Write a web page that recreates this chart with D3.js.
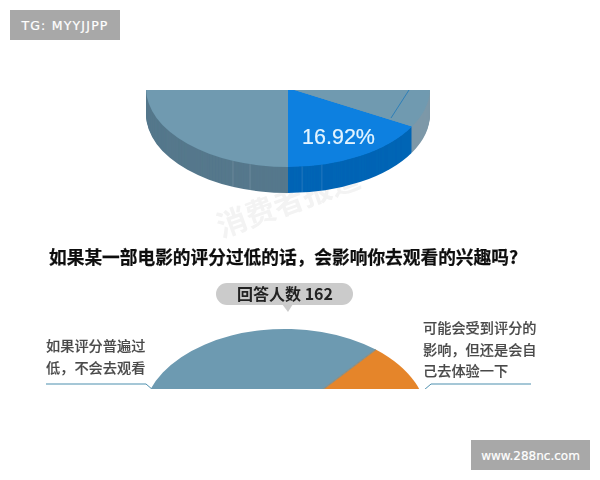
<!DOCTYPE html>
<html><head><meta charset="utf-8">
<script src="https://cdnjs.cloudflare.com/ajax/libs/d3/7.8.5/d3.min.js"></script>
<style>html,body{margin:0;padding:0;background:#fff}svg{display:block}</style>
</head><body><svg id="c" width="600" height="480"></svg>
<script>
// top pie
const topNames = ["blue","rest","right"];
const topValues = [16.92, 75.08, 8];
const topColors = ["#0a80e0","#6f9ab0","#6f9ab0"];
const topSides = ["#0565b5","#55788c","#7d98a8"];
// bottom pie
const botNames = ["orange","other","blue"];
const botValues = [30, 15, 55];
const botColors = ["#e5852a","#b0b0b0","#6d9ab1"];
// texts
const title = "如果某一部电影的评分过低的话，会影响你去观看的兴趣吗?";
const pillText = "回答人数 162";
const leftLines = ["如果评分普遍过","低，不会去观看"];
const rightLines = ["可能会受到评分的","影响，但还是会自","己去体验一下"];
const seamAngles = [202.8,195.5,174.3,166.2];

const svg = d3.select("#c");
const defs = svg.append("defs");
const soft = defs.append("filter").attr("id","soft").attr("x","-5%").attr("y","-5%").attr("width","110%").attr("height","110%");
soft.append("feGaussianBlur").attr("stdDeviation",0.45);
defs.append("clipPath").attr("id","clipTop").append("rect").attr("x",0).attr("y",90).attr("width",600).attr("height",130);
defs.append("clipPath").attr("id","clipBot").append("rect").attr("x",0).attr("y",300).attr("width",600).attr("height",89);

const root = svg.append("g").attr("filter","url(#soft)");
const rad = d=>d*Math.PI/180;
const unitArc = d3.arc().innerRadius(0).outerRadius(1);

// watermark (behind the pie)
root.append("text").attr("transform","translate(292,212) rotate(-20)").attr("text-anchor","middle")
  .attr("font-family","Noto Sans CJK SC").attr("font-weight",700).attr("font-size",30).attr("fill","#f3f3f3").text("消费者报道");

// top pie : unit pie squashed by scale transforms
const tCx=288,tCy=88,tRx=142,tRy=79,tDepth=26;
const tPie = d3.pie().sort(null).value(d=>d).startAngle(rad(180-60.9)).endAngle(rad(180-60.9+360))(topValues);
const gTop = root.append("g").attr("clip-path","url(#clipTop)");
d3.range(tDepth,0,-1).forEach(dy=>{
  gTop.append("g").attr("transform",`translate(${tCx},${tCy+dy}) scale(${tRx},${tRy})`)
    .selectAll("path").data(tPie).join("path").attr("d",unitArc)
    .attr("fill",(d,i)=>topSides[i]);
});
// seams on the side wall
const xs = a=>tCx+tRx*Math.sin(rad(a)), ys=a=>tCy-tRy*Math.cos(rad(a));
gTop.selectAll("line.seam").data(seamAngles).join("line")
  .attr("x1",xs).attr("x2",xs).attr("y1",ys).attr("y2",a=>ys(a)+tDepth)
  .attr("stroke","#fff").attr("stroke-opacity",.13).attr("stroke-width",1);
gTop.append("g").attr("transform",`translate(${tCx},${tCy}) scale(${tRx},${tRy})`)
  .selectAll("path").data(tPie).join("path").attr("d",unitArc).attr("fill",(d,i)=>topColors[i]);
gTop.append("line").attr("x1",409).attr("y1",90).attr("x2",391).attr("y2",118).attr("stroke","#2f7fb8").attr("stroke-width",1);
root.append("text").attr("x",338.5).attr("y",143.5).attr("text-anchor","middle")
  .attr("font-family","Liberation Sans").attr("font-size",21.5).attr("fill","#e4f4ff").attr("stroke","#e4f4ff").attr("stroke-width",0.2).text(topValues[0].toFixed(2)+"%");

// title
root.append("text").attr("x",49).attr("y",264).attr("font-family","Noto Sans CJK SC").attr("font-weight",700)
  .attr("font-size",17.7).attr("fill","#111").attr("stroke","#111").attr("stroke-width",0.25).text(title);

// pill
root.append("rect").attr("x",216).attr("y",283).attr("width",137).attr("height",22).attr("rx",11).attr("fill","#cbcbcb");
root.append("path").attr("d","M282,304L288,312L293,304Z").attr("fill","#cbcbcb");
root.append("text").attr("x",285).attr("y",300).attr("text-anchor","middle").attr("font-family","Noto Sans CJK SC")
  .attr("font-weight",700).attr("font-size",16).attr("fill","#222").text(pillText);

// side labels
const lab = (lines,x,y0,step)=>root.append("g").selectAll("text").data(lines).join("text")
  .attr("x",x).attr("y",(d,i)=>y0+i*step).attr("font-family","Noto Sans CJK SC").attr("font-weight",500)
  .attr("font-size",14.2).attr("fill","#4a4a4a").attr("stroke","#4a4a4a").attr("stroke-width",0.15).text(d=>d);
lab(leftLines,46,351,21.5);
lab(rightLines,423,333,21.5);

// bottom pie
const bCx=285,bCy=418,bRx=142,bRy=89;
const bPie = d3.pie().sort(null).value(d=>d).startAngle(rad(39.7)).endAngle(rad(399.7))(botValues);
const gBot = root.append("g").attr("clip-path","url(#clipBot)");
const line = d3.line();
gBot.append("path").attr("d",line([[46,384],[146,384],[153,390]])).attr("fill","none").attr("stroke","#4d8fae").attr("stroke-width",1);
gBot.append("path").attr("d",line([[531,384],[431,384],[424,390]])).attr("fill","none").attr("stroke","#4d8fae").attr("stroke-width",1);
gBot.append("g").attr("transform",`translate(${bCx},${bCy}) scale(${bRx},${bRy})`)
  .selectAll("path").data(bPie).join("path").attr("d",unitArc).attr("fill",(d,i)=>botColors[i]);
const a0 = bPie[0].startAngle;
gBot.append("line").attr("x1",bCx).attr("y1",bCy)
  .attr("x2",bCx+bRx*Math.sin(a0)).attr("y2",bCy-bRy*Math.cos(a0))
  .attr("stroke","#8a8f86").attr("stroke-width",1.3);

// badges
const badge=(x,y,w,h,t,fs,ls)=>{
  svg.append("rect").attr("x",x).attr("y",y).attr("width",w).attr("height",h).attr("fill","#a8a8a8");
  svg.append("text").attr("x",x+w/2).attr("y",y+h/2+4.5).attr("text-anchor","middle").attr("font-family","DejaVu Sans")
    .attr("font-size",fs).attr("letter-spacing",ls).attr("fill","#fff").attr("stroke","#fff").attr("stroke-width",0.2).text(t);
};
badge(10,10,110,30,"TG: MYYJJPP",12.5,1.2);
badge(471,440,119,30,"www.288nc.com",12,0);
</script></body></html>
